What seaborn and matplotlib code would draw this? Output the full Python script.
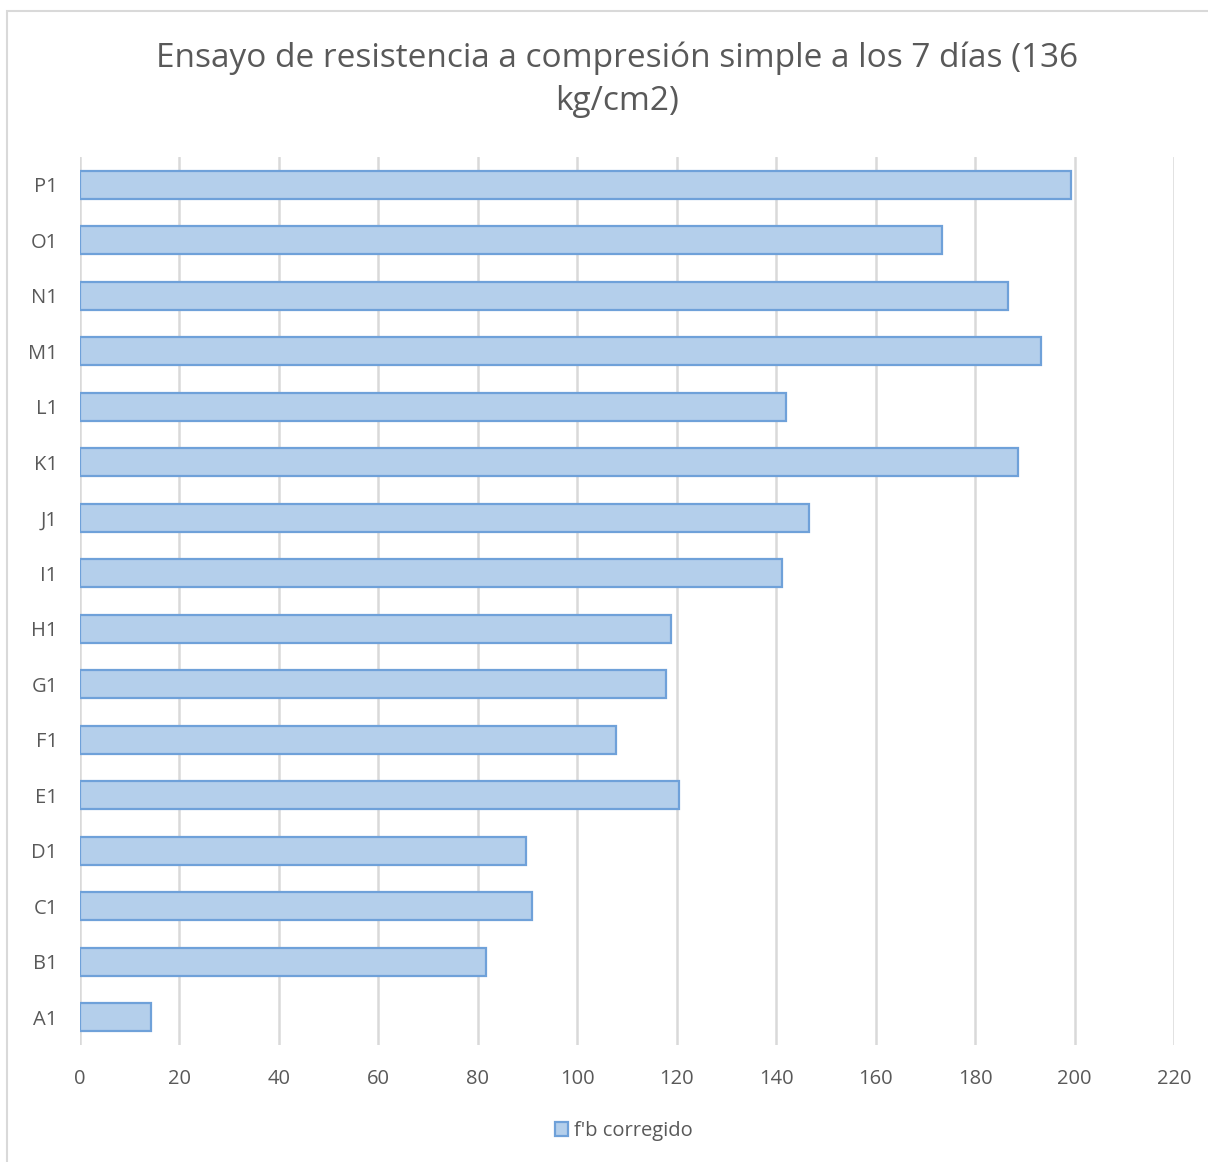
import matplotlib
matplotlib.use("Agg")
import matplotlib.pyplot as plt
import pandas as pd
import seaborn as sns
from matplotlib.patches import Rectangle

# datos
muestras = ["A1", "B1", "C1", "D1", "E1", "F1", "G1", "H1",
            "I1", "J1", "K1", "L1", "M1", "N1", "O1", "P1"]
fb_corregido = [14.3, 81.7, 90.9, 89.7, 120.5, 107.8, 117.9, 118.9,
                141.2, 146.5, 188.7, 142.0, 193.2, 186.7, 173.4, 199.2]
ticks_x = list(range(0, 221, 20))

df = pd.DataFrame({"muestra": muestras, "fb": fb_corregido})

sns.set_theme(style="white")
plt.rcParams["font.family"] = ["Open Sans", "DejaVu Sans"]

gris = "#595959"
fill = "#b4cfeb"
borde = "#6fa1d9"

fig = plt.figure(figsize=(12.08, 11.62), dpi=100)
ax = fig.add_axes([0.0662, 0.1007, 0.9057, 0.7642])

sns.barplot(data=df, y="muestra", x="fb", order=muestras[::-1], orient="h",
            color=fill, saturation=1, width=0.5, edgecolor=borde, linewidth=1.6,
            label="f'b corregido", ax=ax, zorder=3)

ax.set_xlim(0, 220)
ax.set_ylim(15.5, -0.5)
ax.set_xticks(ticks_x)
ax.grid(axis="x", color="#d9d9d9", linewidth=1.8, zorder=0)
ax.set_axisbelow(True)
for s in ax.spines.values():
    s.set_visible(False)
ax.set_xlabel("")
ax.set_ylabel("")
ax.tick_params(axis="both", length=0, labelsize=14.5, labelcolor=gris)
ax.tick_params(axis="x", pad=17)
ax.tick_params(axis="y", pad=16)

fig.text(0.511, 1 - 80 / 1162,
         "Ensayo de resistencia a compresión simple a los 7 días (136\nkg/cm2)",
         ha="center", va="center", fontsize=24, color=gris, linespacing=1.42)

leg = ax.legend(loc="center", bbox_to_anchor=(0.497, -0.097), frameon=False,
                fontsize=14.5, handlelength=0.65, handleheight=0.65, handletextpad=0.3)
for t in leg.get_texts():
    t.set_color(gris)

# marco del área del gráfico
fig.patches.append(Rectangle((7 / 1208, -0.05), 1.1, 1 - 11 / 1162 + 0.05,
                             transform=fig.transFigure, fill=False,
                             edgecolor="#d9d9d9", linewidth=1.5))

fig.savefig("out.png", dpi=100)
